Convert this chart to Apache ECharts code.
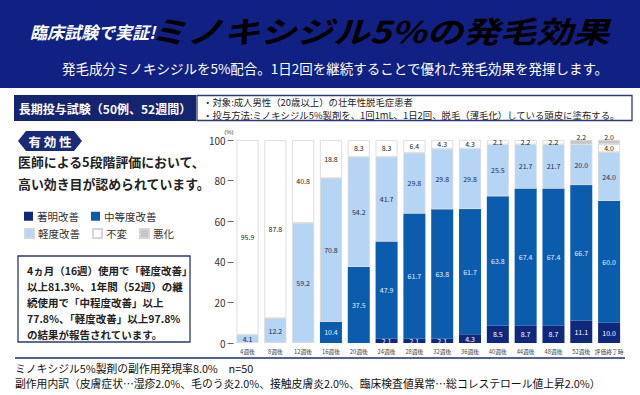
<!DOCTYPE html>
<html><head><meta charset="utf-8">
<script src="https://cdn.jsdelivr.net/npm/echarts@6/dist/echarts.min.js"></script>
<style>html,body{margin:0;padding:0;background:#fff}#c{width:640px;height:395px}</style>
</head><body><div id="c"></div>
<script>
const categories = ['4週後','8週後','12週後','16週後','20週後','24週後','28週後','32週後','36週後','40週後','44週後','48週後','52週後','評価終了時'];
const seriesNames = ['著明改善','中等度改善','軽度改善','不変','悪化'];
const marked    = [0,0,0,0,0,2.1,2.1,2.1,4.3,8.5,8.7,8.7,11.1,10.0];
const moderate  = [0,0,0,10.4,37.5,47.9,61.7,63.8,61.7,63.8,67.4,67.4,66.7,60.0];
const mild      = [4.1,12.2,59.2,70.8,54.2,41.7,29.8,29.8,29.8,25.5,21.7,21.7,20.0,24.0];
const unchanged = [95.9,87.8,40.8,18.8,8.3,8.3,6.4,4.3,4.3,2.1,2.2,2.2,0,4.0];
const worse     = [0,0,0,0,0,0,0,0,0,0,0,0,2.2,2.0];
const yTicks    = [0,20,40,60,80,100];

const FONT = '"Noto Sans CJK JP","Noto Sans",sans-serif';
const colors = ['#10287c','#0b5cad','#b6d4f4','#ffffff','#c6c6c6'];
const labelColors = ['#ffffff','#e2f0ff','#1b2b55','#222222','#222222'];
const values = [marked, moderate, mild, unchanged, worse];

const chart = echarts.init(document.getElementById('c'), null, {renderer:'svg'});

function txt(x, y, text, opt) {
  opt = opt || {};
  return {
    type:'text', x:x, y:y, scaleX: opt.scaleX || 1,
    style:{
      text:text, x:0, y:0,
      fill: opt.fill || '#222',
      fontSize: opt.size || 12, fontWeight: opt.weight || 'normal',
      fontStyle: opt.style || 'normal', fontFamily: FONT,
      textAlign: opt.align || 'left', align: opt.align || 'left',
      textVerticalAlign:'middle', verticalAlign:'middle'
    }
  };
}

const series = values.map((arr, si) => ({
  name: seriesNames[si],
  type:'bar', stack:'total', barWidth:22,
  data: arr.map((v, i) => {
    if (!v) return '-';
    if (si === 4) return {value:v, label:{position:'top', distance:0}};
    return v;
  }),
  itemStyle:{color:colors[si], borderColor: si >= 2 ? '#d6d6d6' : colors[si], borderWidth: si >= 2 ? 0.8 : 0},
  label:{show:true, position:'inside', fontSize:7, fontFamily:FONT, color:labelColors[si],
    formatter: p => (typeof p.value === 'number' ? p.value.toFixed(1) : '')},
  emphasis:{disabled:true}
}));

const option = {
  animation:false,
  grid:{left:233.6, right:17, top:140, bottom:52, containLabel:false},
  legend:[
    {data:['著明改善','中等度改善'], left:19, top:206, orient:'horizontal', itemWidth:9, itemHeight:9, itemGap:12, icon:'rect', selectedMode:false,
      textStyle:{fontSize:10.5, color:'#333', fontFamily:FONT, padding:[0,0,0,-1]}},
    {data:['軽度改善','不変','悪化'], left:19, top:223, orient:'horizontal', itemWidth:9, itemHeight:9, itemGap:12, icon:'rect', selectedMode:false,
      textStyle:{fontSize:10.5, color:'#333', fontFamily:FONT, padding:[0,0,0,-1]}}
  ],
  xAxis:{type:'category', data:categories,
    axisLine:{show:false}, axisTick:{show:false},
    axisLabel:{fontSize:5.8, color:'#444', margin:6, interval:0, fontFamily:FONT}},
  yAxis:{type:'value', min:yTicks[0], max:yTicks[yTicks.length-1], interval:20,
    name:'(%)', nameLocation:'end', nameGap:5, nameTextStyle:{fontSize:6, color:'#444', align:'right', padding:[0,0,0,0]},
    axisLine:{show:false}, axisTick:{show:true, length:6, lineStyle:{color:'#666'}},
    splitLine:{show:false},
    axisLabel:{fontSize:10, color:'#333', margin:8, fontFamily:FONT}},
  series: series,
  graphic:[
    {type:'rect', shape:{x:0,y:0,width:640,height:88}, style:{fill:'#102183'}, z:-10},
    txt(30, 31, '臨床試験で実証!', {fill:'#ffffff', size:17, weight:'bold', style:'italic'}),
    txt(150, 30, 'ミノキシジル5%の発毛効果', {size:30, weight:'bold', style:'italic', scaleX:1.22,
      fill:{type:'linear', x:0, y:0, x2:0, y2:1, colorStops:[{offset:0,color:'#ffffff'},{offset:0.55,color:'#a9b0c6'},{offset:1,color:'#eef0f6'}]}}),
    txt(335, 68, '発毛成分ミノキシジルを5%配合。1日2回を継続することで優れた発毛効果を発揮します。', {fill:'#ffffff', size:13.5, align:'center'}),

    {type:'rect', shape:{x:14,y:95,width:182,height:26}, style:{fill:'#14246f'}},
    txt(105, 108, '長期投与試験（50例、52週間）', {fill:'#ffffff', size:12, weight:'bold', align:'center'}),
    {type:'rect', shape:{x:197,y:95.5,width:435,height:25}, style:{fill:'#ffffff', stroke:'#2b3a7d', lineWidth:1.3}},
    txt(203, 102, '・対象:成人男性（20歳以上）の壮年性脱毛症患者', {size:9.4, fill:'#222'}),
    txt(203, 114.5, '・投与方法:ミノキシジル5%製剤を、1回1mL、1日2回、脱毛（薄毛化）している頭皮に塗布する。', {size:9.4, fill:'#222'}),

    {type:'polygon', shape:{points:[[18,141],[26,131],[74,131],[82,141],[74,151],[26,151]]}, style:{fill:'#1a2a78'}},
    txt(50, 141, '有 効 性', {fill:'#ffffff', size:12.5, weight:'bold', align:'center'}),
    txt(18, 161, '医師による5段階評価において、', {size:12.9, weight:'bold', fill:'#222'}),
    txt(18, 183, '高い効き目が認められています。', {size:12.9, weight:'bold', fill:'#222'}),

    {type:'rect', shape:{x:18,y:256,width:172,height:86}, style:{fill:'#ffffff', stroke:'#2b3a6e', lineWidth:1.3}},
    txt(27, 270, '4ヵ月（16週）使用で「軽度改善」', {size:10.5, weight:'bold', fill:'#222'}),
    txt(27, 286, '以上81.3%、1年間（52週）の継', {size:10.5, weight:'bold', fill:'#222'}),
    txt(27, 302, '続使用で「中程度改善」以上', {size:10.5, weight:'bold', fill:'#222'}),
    txt(27, 318, '77.8%、「軽度改善」以上97.8%', {size:10.5, weight:'bold', fill:'#222'}),
    txt(27, 334, 'の結果が報告されています。', {size:10.5, weight:'bold', fill:'#222'}),

    {type:'line', shape:{x1:15,y1:358,x2:625,y2:358}, style:{stroke:'#1b2a78', lineWidth:1.6}},
    txt(15, 368, 'ミノキシジル5%製剤の副作用発現率8.0%　n=50', {size:10.8, fill:'#111'}),
    txt(15, 383, '副作用内訳（皮膚症状…湿疹2.0%、毛のう炎2.0%、接触皮膚炎2.0%、臨床検査値異常…総コレステロール値上昇2.0%）', {size:10.8, fill:'#111'})
  ]
};
chart.setOption(option);
</script></body></html>
